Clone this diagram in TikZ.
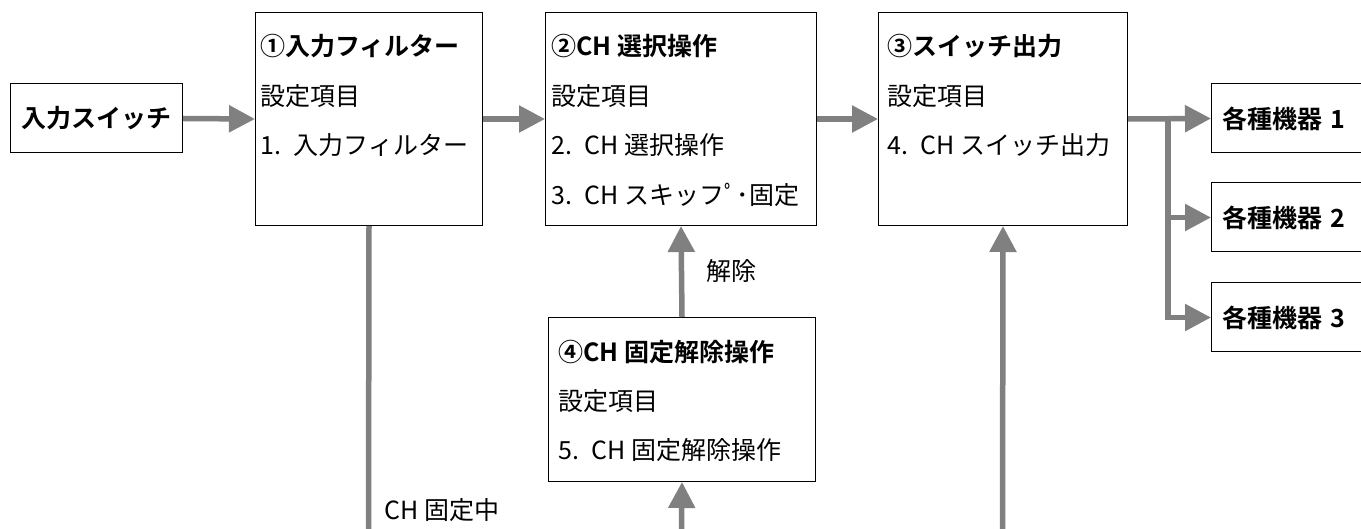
\documentclass[tikz,border=0pt]{standalone}
\usepackage{fontspec}
\setmainfont{Noto Sans CJK JP}[BoldFont={* Bold}]
\usetikzlibrary{arrows.meta}

\begin{document}
\begin{tikzpicture}[x=1pt, y=-1pt,
    every node/.style={font=\fontsize{25}{49.5}\selectfont},
    block/.style={draw, line width=1pt, anchor=north west, inner sep=0pt},
    blocktext/.style={anchor=north west, align=left, inner sep=0pt},
    labeltext/.style={inner sep=0pt},
    smallbox/.style={draw, line width=1pt, minimum height=69pt, inner ysep=0pt, font=\fontsize{25}{30}\selectfont\bfseries},
    flow/.style={draw=gray, line width=5.5pt, -{Triangle[length=26pt, width=26pt]}},
    wire/.style={draw=gray, line width=5.5pt}]
      \useasboundingbox (0,0) rectangle (1361,529);
      \clip (0,0) rectangle (1361,529);
      \node[smallbox, minimum width=172pt, inner xsep=0pt] (insw) at (96.7,118.5) {入力スイッチ};
      \node[block, minimum width=227pt, minimum height=213pt] (filt) at (255,12) {};
      \node[block, minimum width=271pt, minimum height=213pt] (sel) at (545,12) {};
      \node[block, minimum width=249pt, minimum height=213pt] (outp) at (878,12) {};
      \node[block, minimum width=267pt, minimum height=164pt] (unfix) at (548,317) {};
      \node[blocktext] (filttxt) at ([xshift=5pt, yshift=-22.5pt] filt.north west) {\textbf{①入力フィルター}\\設定項目\\1.\enspace 入力フィルター};
      \node[blocktext] (seltxt) at ([xshift=6pt, yshift=-22.5pt] sel.north west) {\textbf{②CH 選択操作}\\設定項目\\2.\enspace CH 選択操作\\3.\enspace CH スキッフﾟ･固定};
      \node[blocktext] (outptxt) at ([xshift=9pt, yshift=-22.5pt] outp.north west) {\textbf{③スイッチ出力}\\設定項目\\4.\enspace CH スイッチ出力};
      \node[blocktext] (unfixtxt) at ([xshift=10pt, yshift=-22.5pt] unfix.north west) {\textbf{④CH 固定解除操作}\\設定項目\\5.\enspace CH 固定解除操作};
      \node[smallbox, anchor=west, text width=150pt, align=left, inner xsep=11pt] (dev1) at (1211,118.5) {各種機器 1};
      \node[smallbox, anchor=west, text width=150pt, align=left, inner xsep=11pt] (dev2) at (1211,217.5) {各種機器 2};
      \node[smallbox, anchor=west, text width=150pt, align=left, inner xsep=11pt] (dev3) at (1211,317.5) {各種機器 3};
      \coordinate (split) at (1168,118.5);
      \coordinate (bot1) at (368.5,532);
      \coordinate (bot4) at (681.5,532);
      \coordinate (bot3) at (1002.5,532);
      \draw[flow] (insw.east) -- (filt.west);
      \draw[flow] (filt.east) -- (sel.west);
      \draw[flow] (sel.east) -- (outp.west);
      \draw[flow] (outp.east) -- (dev1.west);
      \draw[flow] (split) |- (dev2.west);
      \draw[flow] (split) |- (dev3.west);
      \draw[flow] (unfix.north) -- node[labeltext, right=22pt] (release) {解除} (sel.south);
      \draw[wire] (filt.south) -- (bot1);
      \draw[flow] (bot4) -- (unfix.south);
      \draw[flow] (bot3) -- (outp.south);
      \node[labeltext, anchor=west] (fixnote) at ([xshift=16pt, yshift=22pt] bot1) {CH 固定中};
    \end{tikzpicture}
\end{document}
